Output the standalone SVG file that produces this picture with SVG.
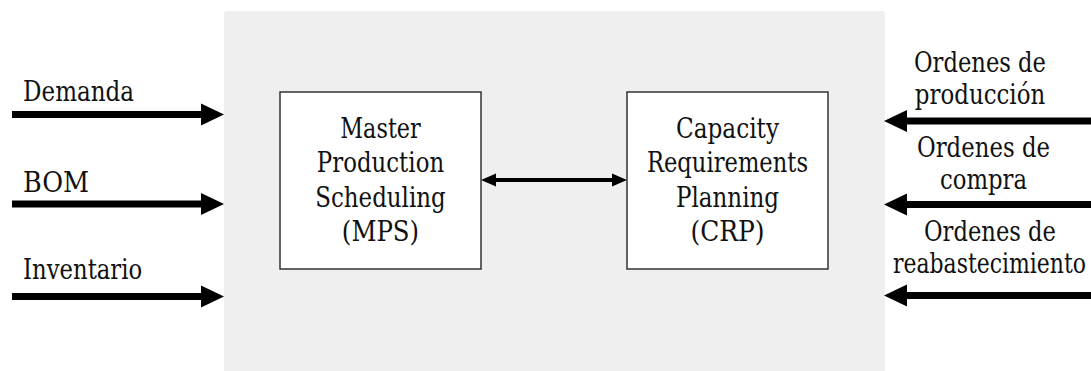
<svg xmlns="http://www.w3.org/2000/svg" width="1091" height="371" viewBox="0 0 1091 371">
  <style>
    .t { font-family: "DejaVu Serif", serif; font-size: 27px; fill: #111; }
    .c { text-anchor: middle; }
    .box { fill: #ffffff; stroke: #333333; stroke-width: 1.5; }
    .io { stroke: #000; stroke-width: 7; fill: none; }
    .dbl { stroke: #000; stroke-width: 4; fill: none; }
  </style>
  <defs>
    <marker id="bigHead" markerUnits="userSpaceOnUse" markerWidth="23" markerHeight="22" refX="0" refY="11" orient="auto" overflow="visible">
      <path d="M0,0 L23,11 L0,22 Z" fill="#000"/>
    </marker>
    <marker id="smallHead" markerUnits="userSpaceOnUse" markerWidth="15" markerHeight="13" refX="0" refY="6.5" orient="auto-start-reverse" overflow="visible">
      <path d="M0,0 L15,6.5 L0,13 Z" fill="#000"/>
    </marker>
  </defs>

  <rect id="system" x="224" y="11" width="661" height="362" rx="3" fill="#efefef"/>

  <g id="mps">
    <rect class="box" x="280" y="92" width="201" height="177"/>
    <text class="t c" x="380.5" y="137.5" textLength="80.5" lengthAdjust="spacingAndGlyphs">Master</text>
    <text class="t c" x="380.5" y="172" textLength="127.3" lengthAdjust="spacingAndGlyphs">Production</text>
    <text class="t c" x="380.5" y="206.5" textLength="130.5" lengthAdjust="spacingAndGlyphs">Scheduling</text>
    <text class="t c" x="380.5" y="241" textLength="77.3" lengthAdjust="spacingAndGlyphs">(MPS)</text>
  </g>

  <g id="crp">
    <rect class="box" x="627" y="92" width="201" height="177"/>
    <text class="t c" x="727.5" y="137.5" textLength="103.1" lengthAdjust="spacingAndGlyphs">Capacity</text>
    <text class="t c" x="727.5" y="172" textLength="161.1" lengthAdjust="spacingAndGlyphs">Requirements</text>
    <text class="t c" x="727.5" y="206.5" textLength="103.1" lengthAdjust="spacingAndGlyphs">Planning</text>
    <text class="t c" x="727.5" y="241" textLength="74.1" lengthAdjust="spacingAndGlyphs">(CRP)</text>
  </g>

  <g id="input-labels">
    <text class="t" x="23" y="100.5" textLength="111.1" lengthAdjust="spacingAndGlyphs">Demanda</text>
    <text class="t" x="23" y="191.5" textLength="66.1" lengthAdjust="spacingAndGlyphs">BOM</text>
    <text class="t" x="23" y="278.5" textLength="119.2" lengthAdjust="spacingAndGlyphs">Inventario</text>
  </g>

  <g id="output-labels">
    <text class="t c" x="980" y="72" textLength="132" lengthAdjust="spacingAndGlyphs">Ordenes de</text>
    <text class="t c" x="980" y="104" textLength="130.5" lengthAdjust="spacingAndGlyphs">producción</text>
    <text class="t c" x="983.5" y="157" textLength="133" lengthAdjust="spacingAndGlyphs">Ordenes de</text>
    <text class="t c" x="983.5" y="189" textLength="87" lengthAdjust="spacingAndGlyphs">compra</text>
    <text class="t c" x="990" y="241" textLength="132" lengthAdjust="spacingAndGlyphs">Ordenes de</text>
    <text class="t c" x="989.5" y="273" textLength="193" lengthAdjust="spacingAndGlyphs">reabastecimiento</text>
  </g>

  <g id="connectors">
    <line class="io" x1="12" y1="114.5" x2="201" y2="114.5" marker-end="url(#bigHead)"/>
    <line class="io" x1="12" y1="204" x2="201" y2="204" marker-end="url(#bigHead)"/>
    <line class="io" x1="12" y1="296.5" x2="201" y2="296.5" marker-end="url(#bigHead)"/>
    <line class="io" x1="1091" y1="121" x2="907" y2="121" marker-end="url(#bigHead)"/>
    <line class="io" x1="1091" y1="204.5" x2="907" y2="204.5" marker-end="url(#bigHead)"/>
    <line class="io" x1="1091" y1="295.5" x2="907" y2="295.5" marker-end="url(#bigHead)"/>
    <line class="dbl" x1="496" y1="180" x2="612" y2="180" marker-start="url(#smallHead)" marker-end="url(#smallHead)"/>
  </g>
</svg>
